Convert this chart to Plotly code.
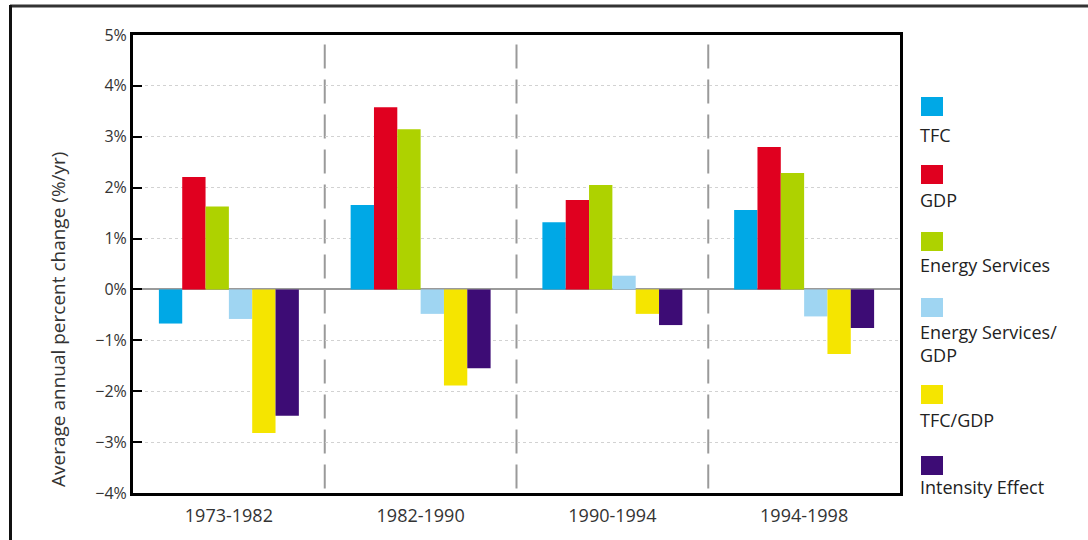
import plotly.graph_objects as go

# ---- data ----
periods = ["1973-1982", "1982-1990", "1990-1994", "1994-1998"]
series_names = ["TFC", "GDP", "Energy Services", "Energy Services/<br>GDP", "TFC/GDP", "Intensity Effect"]
tfc = [-0.67, 1.66, 1.32, 1.56]
gdp = [2.21, 3.58, 1.76, 2.80]
energy_services = [1.63, 3.15, 2.05, 2.29]
es_per_gdp = [-0.58, -0.48, 0.27, -0.53]
tfc_per_gdp = [-2.82, -1.89, -0.48, -1.27]
intensity_effect = [-2.48, -1.55, -0.70, -0.76]
ytick_vals = [-4, -3, -2, -1, 0, 1, 2, 3, 4, 5]
ytick_text = ["\u22124%", "\u22123%", "\u22122%", "\u22121%", "0%", "1%", "2%", "3%", "4%", "5%"]

# ---- styles ----
colors = ["#00A8E6", "#E0001F", "#AED200", "#9FD5F2", "#F5E500", "#3D0C75"]
FONT = "Open Sans"
W, H = 1088, 540
L, R, T, B = 133, 900, 35, 493  # plot area in pixels


def px_x(x):
    return (x - L) / (R - L)


def px_y(y):
    return (B - y) / (B - T)


values = [tfc, gdp, energy_services, es_per_gdp, tfc_per_gdp, intensity_effect]

fig = go.Figure()
for name, vals, col in zip(series_names, values, colors):
    fig.add_trace(go.Bar(x=periods, y=vals, name=name.replace("<br>", ""),
                         marker=dict(color=col, line=dict(width=0)), showlegend=False))

shapes = []
# vertical dashed separators between periods
for i in range(len(periods) - 1):
    shapes.append(dict(type="line", xref="x", yref="paper", x0=i + 0.5, x1=i + 0.5,
                       y0=0.01, y1=0.985, line=dict(color="#9a9a9a", width=2, dash="24px,11px"),
                       layer="below"))
# outer frame (top & left)
shapes.append(dict(type="line", xref="paper", yref="paper", x0=px_x(10), x1=px_x(W + 5),
                   y0=px_y(6), y1=px_y(6), line=dict(color="#333", width=3)))
shapes.append(dict(type="line", xref="paper", yref="paper", x0=px_x(10.5), x1=px_x(10.5),
                   y0=px_y(5), y1=px_y(H + 5), line=dict(color="#111", width=3)))

# custom legend (square above label)
sq_tops = [97, 165, 232, 298, 385, 456]
label_centers = [135, 200, 265, 343.5, 420, 487]
annotations = []
for name, col, st, lc in zip(series_names, colors, sq_tops, label_centers):
    shapes.append(dict(type="rect", xref="paper", yref="paper", x0=px_x(921), x1=px_x(943),
                       y0=px_y(st + 19), y1=px_y(st), fillcolor=col, line=dict(width=0)))
    annotations.append(dict(xref="paper", yref="paper", x=px_x(918), y=px_y(lc), text=name,
                            showarrow=False, xanchor="left", yanchor="middle", align="left",
                            font=dict(family=FONT, size=18, color="#222")))

annotations.append(dict(xref="paper", yref="paper", x=px_x(58), y=px_y(320),
                        text="Average annual percent change (%/yr)", textangle=-90,
                        showarrow=False, xanchor="center", yanchor="middle",
                        font=dict(family=FONT, size=19, color="#333")))

fig.update_layout(
    width=W, height=H,
    margin=dict(l=L, r=W - R, t=T, b=H - B),
    paper_bgcolor="white", plot_bgcolor="white",
    barmode="group", bargap=0.27, bargroupgap=0,
    shapes=shapes, annotations=annotations,
    font=dict(family=FONT, color="#333"),
)
fig.update_xaxes(showline=True, linecolor="black", linewidth=3, mirror=True,
                 showgrid=False, ticks="", tickfont=dict(family=FONT, size=18, color="#333"),
                 range=[-0.5, 3.5], ticklabelstandoff=4)
fig.update_yaxes(range=[-4, 5], tickvals=ytick_vals, ticktext=ytick_text,
                 showline=True, linecolor="black", linewidth=3, mirror=True,
                 ticks="inside", ticklen=9, tickwidth=2, tickcolor="black",
                 showgrid=True, gridcolor="#d2d2d2", gridwidth=1, griddash="dot",
                 zeroline=True, zerolinecolor="#9a9a9a", zerolinewidth=2,
                 tickfont=dict(family=FONT, size=16, color="#333"))

fig.write_html("out.html", config={"displayModeBar": False},
               post_script="document.body.style.margin='0';document.body.style.overflow='hidden';")
